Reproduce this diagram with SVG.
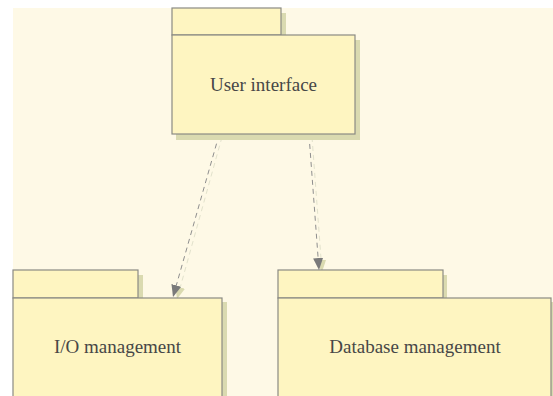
<svg xmlns="http://www.w3.org/2000/svg" width="553" height="396" viewBox="0 0 553 396">
<style>
.sh{fill:#DADAB0}
.pk{fill:#FEF5C1;stroke:#8A8A84;stroke-width:1.2}
.lb{font-size:19px;fill:#474747;text-anchor:middle}
.ln{stroke:#8E8E8E;stroke-width:1;stroke-dasharray:5,4;fill:none}
.lns{stroke:#E2E2CC;stroke-width:1;stroke-dasharray:5,4;fill:none}
</style>
<defs>
<marker id="ah" markerWidth="12" markerHeight="10" refX="12" refY="5" orient="auto" markerUnits="userSpaceOnUse">
<path d="M0,0 L12,5 L0,10 Z" fill="#7A7A7A"/>
</marker>
<marker id="ahs" markerWidth="12" markerHeight="10" refX="12" refY="5" orient="auto" markerUnits="userSpaceOnUse">
<path d="M0,0 L12,5 L0,10 Z" fill="#DADAB0"/>
</marker>
</defs>
<rect x="0" y="0" width="553" height="396" fill="#FFFFFF"/>
<rect x="13" y="8" width="540" height="388" fill="#FEF9E6"/>
<g id="connectors">
<line class="lns" x1="222" y1="137" x2="177" y2="299" marker-end="url(#ahs)"/>
<line class="lns" x1="312" y1="137" x2="322" y2="272" marker-end="url(#ahs)"/>
<line class="ln" x1="219" y1="135" x2="173" y2="297" marker-end="url(#ah)"/>
<line class="ln" x1="309" y1="135" x2="319" y2="270" marker-end="url(#ah)"/>
</g>
<g id="user-interface">
<rect class="sh" x="176" y="13" width="110" height="27"/>
<rect class="sh" x="176" y="40" width="184" height="100"/>
<rect class="pk" x="172" y="8" width="109" height="27"/>
<rect class="pk" x="172" y="35" width="183" height="99"/>
<text class="lb" font-family="Liberation Serif, Times New Roman, serif" x="263.5" y="91">User interface</text>
</g>
<g id="io-management">
<rect class="sh" x="17" y="275" width="126" height="27"/>
<rect class="sh" x="17" y="302" width="210" height="100"/>
<rect class="pk" x="13" y="270" width="125" height="28"/>
<rect class="pk" x="13" y="298" width="209" height="110"/>
<text class="lb" font-family="Liberation Serif, Times New Roman, serif" x="117.5" y="353">I/O management</text>
</g>
<g id="database-management">
<rect class="sh" x="282" y="275" width="165" height="27"/>
<rect class="sh" x="282" y="302" width="276" height="100"/>
<rect class="pk" x="278" y="270" width="165" height="28"/>
<rect class="pk" x="278" y="298" width="273" height="110"/>
<text class="lb" font-family="Liberation Serif, Times New Roman, serif" x="415" y="353">Database management</text>
</g>
</svg>
